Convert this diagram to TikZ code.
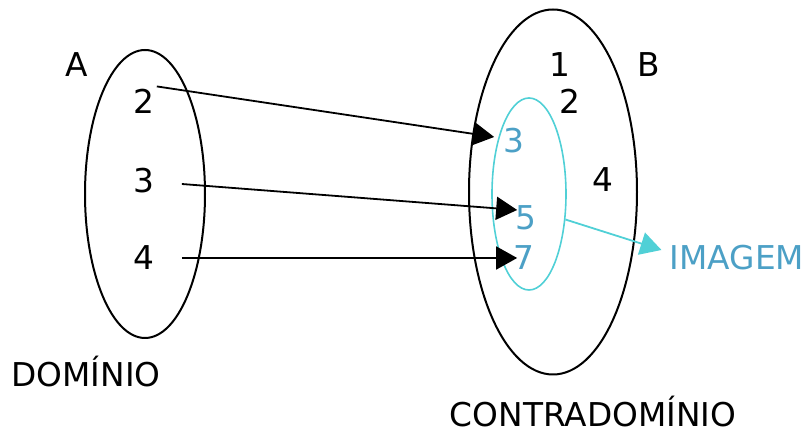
\documentclass[tikz,border=0pt]{standalone}
\usepackage{fontspec}
\setmainfont{DejaVu Sans}
\usetikzlibrary{shapes.geometric, arrows.meta}

\definecolor{setline}{RGB}{80,208,214}
\definecolor{settext}{RGB}{76,160,198}

\begin{document}
\begin{tikzpicture}[
    x=0.5pt, y=0.5pt,
    every node/.style={font=\fontsize{16.4}{19}\selectfont, inner sep=2pt},
    set/.style={ellipse, draw, line width=1pt, inner sep=0pt},
    arr/.style={-{Triangle[length=10.5pt,width=11.5pt]}, line width=0.9pt},
    img/.style={text=settext}
  ]

  \useasboundingbox (0,0) rectangle (805,432);

  % sets
  \node[set, minimum width=60pt, minimum height=144pt] (setA) at (145,238) {};
  \node[set, minimum width=84pt, minimum height=182.5pt] (setB) at (553,240) {};
  \node[set, draw=setline, line width=0.8pt, minimum width=37pt, minimum height=96pt] (setI) at (529,238) {};

  % set names
  \node (nameA) at (77,367.5) {A};
  \node (nameB) at (649,367.5) {B};

  % domain
  \node (a2) at (144,331) {2};
  \node (a3) at (144,251) {3};
  \node (a4) at (144,174) {4};

  % codomain
  \node (b1) at (560,367.5) {1};
  \node (b2) at (570,330.5) {2};
  \node (b4) at (603,252) {4};

  % image
  \node[img] (c3) at (514,291) {3};
  \node[img] (c5) at (526,214) {5};
  \node[img] (c7) at (524,174) {7};

  \node[img] (imagem) at (737,174) {IMAGEM};
  \node[anchor=base] (dominio) at (86,45) {DOMÍNIO};
  \node[anchor=base] (contra) at (593,5) {CONTRADOMÍNIO};

  % mapping
  \draw[arr] ([xshift=-1pt,yshift=-1pt]a2.north east) -- ([xshift=-2.5pt,yshift=2pt]c3.west);
  \draw[arr] ([xshift=11.5pt,yshift=-1.5pt]a3.east) -- ([xshift=3pt,yshift=4pt]c5.west);
  \draw[arr] ([xshift=11.5pt]a4.east) -- ([xshift=4pt]c7.west);
  \draw[arr, draw=setline, line width=0.9pt] (setI.-35) -- ([xshift=-2pt,yshift=4pt]imagem.west);

\end{tikzpicture}
\end{document}
